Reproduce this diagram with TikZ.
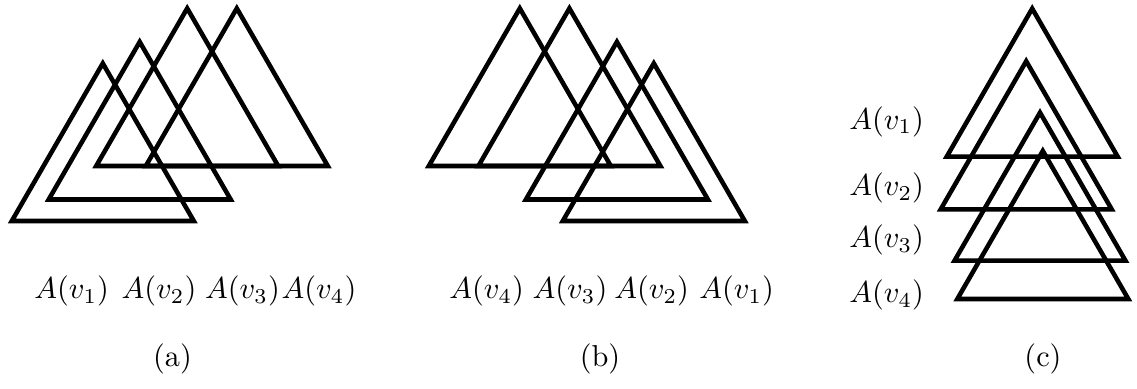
\documentclass[tikz,border=0pt]{standalone}
\usepackage{tikz}
% base centre x, base y, side length
\newcommand{\drawtri}[3]{\draw[tri] (#1-#3/2,#2) -- ++(#3,0) -- ++(-#3/2,0.866*#3) -- cycle;}

\begin{document}
\begin{tikzpicture}[x=0.33pt, y=0.33pt,
  tri/.style={line width=1.5pt, line join=miter},
  lbl/.style={inner sep=0pt},
]
\useasboundingbox (0,0) rectangle (1137,389);

% (a) shifted to the right
\drawtri{102.8}{168}{182}
\drawtri{139.7}{189.5}{182}
\drawtri{187.2}{223}{182}
\drawtri{236.8}{223}{182}

% (b) shifted to the left
\drawtri{519.8}{223}{182}
\drawtri{569.4}{223}{182}
\drawtri{616.9}{189.5}{182}
\drawtri{653.8}{168}{182}

% (c) stacked
\drawtri{1032.2}{232.3}{171}
\drawtri{1026.2}{179.7}{171}
\drawtri{1040}{128.3}{171}
\drawtri{1042.8}{90}{171}

% Labels
\node[lbl] (a1) at (71.7,98) {$A(v_1)$};
\node[lbl] (a2) at (159,98) {$A(v_2)$};
\node[lbl] (a3) at (242.5,98) {$A(v_3)$};
\node[lbl] (a4) at (319,98) {$A(v_4)$};

\node[lbl] (b4) at (486.7,98) {$A(v_4)$};
\node[lbl] (b3) at (570,98) {$A(v_3)$};
\node[lbl] (b2) at (651.7,98) {$A(v_2)$};
\node[lbl] (b1) at (736.7,98) {$A(v_1)$};

\node[lbl] (c1) at (886.7,267.3) {$A(v_1)$};
\node[lbl] (c2) at (886.7,201) {$A(v_2)$};
\node[lbl] (c3) at (886.7,149) {$A(v_3)$};
\node[lbl] (c4) at (886.7,94) {$A(v_4)$};

% Captions
\node[lbl] (capa) at (172.5,30) {(a)};
\node[lbl] (capb) at (600,30) {(b)};
\node[lbl] (capc) at (1043,30) {(c)};

\end{tikzpicture}
\end{document}
